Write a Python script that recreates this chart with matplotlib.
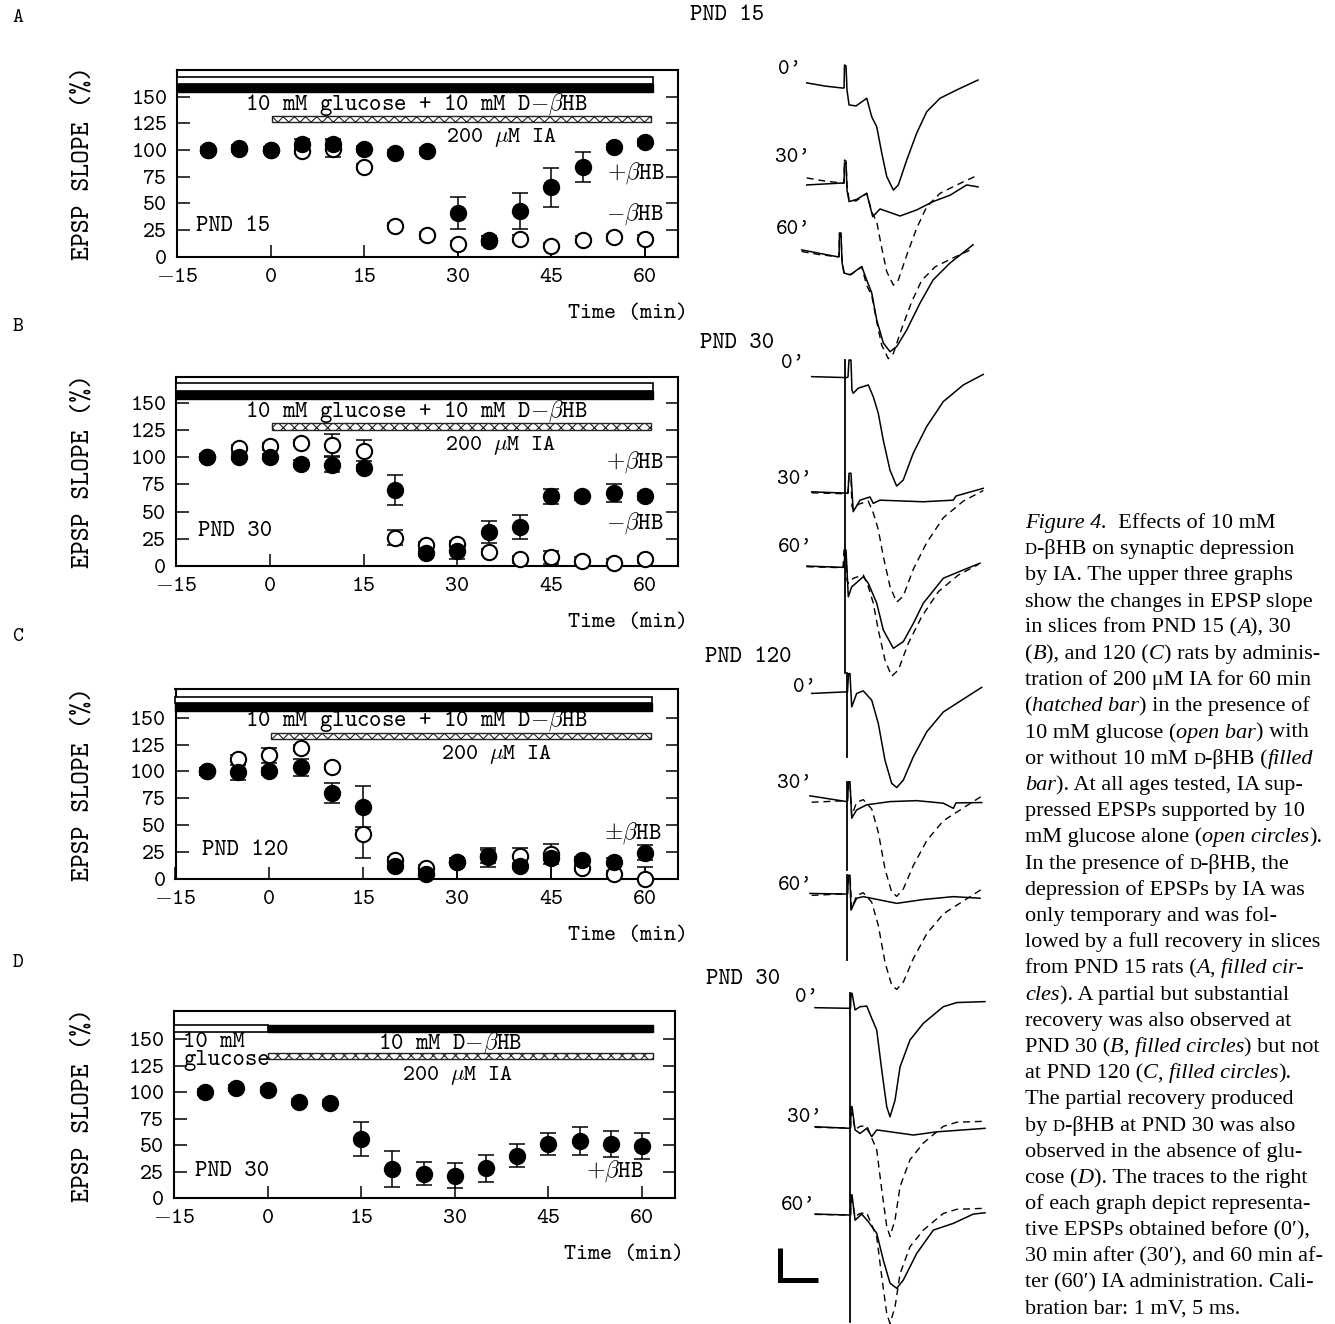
import matplotlib
matplotlib.use('Agg')
import matplotlib.pyplot as plt
from matplotlib.patches import Rectangle
from matplotlib.font_manager import FontProperties

W, H, DPI = 1335, 1324, 100
plt.rcParams['font.family'] = ['cmtt10', 'DejaVu Serif']
plt.rcParams['mathtext.fontset'] = 'cm'
plt.rcParams['axes.unicode_minus'] = False
plt.rcParams['hatch.linewidth'] = 0.8

# ---------------- data (EPSP slope, % of baseline) ----------------
time_min = [-10, -5, 0, 5, 10, 15, 20, 25, 30, 35, 40, 45, 50, 55, 60]
x_ticks = [-15, 0, 15, 30, 45, 60]
x_tick_labels = ['$-$15', '0', '15', '30', '45', '60']
y_ticks = [0, 25, 50, 75, 100, 125, 150]
y_tick_labels = ['0', '25', '50', '75', '100', '125', '150']

# Panel A  (PND 15)
A_with = [100, 102, 100, 106, 106, 101, 97, 99, 41, 15, 43, 65, 84, 103, 107]
A_with_lo = [3, 3, 3, 4, 4, 3, 3, 3, 15, 4, 17, 18, 14, 3, 3]
A_with_hi = [3, 3, 3, 4, 4, 3, 3, 3, 15, 4, 17, 18, 14, 3, 3]
A_without = [100, 101, 100, 99, 101, 84, 29, 20, 12, 16, 17, 10, 16, 18, 17]
A_without_lo = [3, 3, 3, 3, 8, 3, 3, 3, 12, 3, 3, 10, 3, 3, 17]
A_without_hi = [3, 3, 3, 3, 8, 3, 3, 3, 3, 3, 3, 3, 3, 3, 3]
# Panel B  (PND 30)
B_with = [100, 100, 100, 94, 93, 90, 70, 12, 14, 31, 36, 64, 64, 67, 64]
B_with_lo = [3, 3, 3, 3, 7, 3, 14, 3, 8, 10, 11, 7, 3, 8, 3]
B_with_hi = [3, 3, 3, 3, 7, 3, 14, 3, 8, 10, 11, 7, 3, 8, 3]
B_without = [100, 108, 110, 113, 111, 106, 26, 19, 20, 13, 6, 8, 5, 3, 6]
B_without_lo = [3, 3, 3, 3, 10, 10, 7, 3, 3, 3, 3, 6, 3, 3, 3]
B_without_hi = [3, 3, 3, 3, 10, 10, 7, 3, 3, 3, 3, 6, 3, 3, 3]
# Panel C  (PND 120)
C_with = [100, 99, 100, 104, 80, 67, 12, 4, 16, 20, 12, 19, 17, 16, 24]
C_with_lo = [3, 7, 3, 8, 9, 19, 3, 3, 16, 9, 3, 19, 3, 3, 7]
C_with_hi = [3, 7, 3, 8, 9, 19, 3, 3, 3, 9, 3, 3, 3, 3, 7]
C_without = [100, 112, 115, 122, 104, 42, 17, 10, 16, 21, 21, 23, 10, 4, 0]
C_without_lo = [3, 3, 7, 3, 3, 23, 3, 3, 3, 6, 8, 9, 3, 3, 0]
C_without_hi = [3, 3, 7, 3, 3, 3, 3, 3, 3, 6, 8, 9, 3, 3, 11]
# Panel D  (PND 30, no glucose)
D_with = [100, 104, 102, 91, 90, 56, 27, 23, 21, 28, 40, 51, 54, 51, 49]
D_with_lo = [3, 3, 3, 3, 3, 16, 17, 11, 12, 13, 11, 10, 13, 12, 12]
D_with_hi = [3, 3, 3, 3, 3, 16, 17, 11, 12, 13, 11, 10, 13, 12, 12]

# application windows (min)
glucose_window = {'A': (-15, 61.3), 'B': (-15, 61.3), 'C': (-15, 61.2), 'D': (-15, 0)}
bhb_window = {'A': (-15, 61.3), 'B': (-15, 61.3), 'C': (-15, 61.2), 'D': (0, 61.8)}
ia_window = {'A': (0.3, 61), 'B': (0.3, 61), 'C': (0.3, 61), 'D': (0, 61.8)}

# ---------------- representative EPSP traces (t in ms from stimulus, mV from baseline) ----------------
P15_0 = [(-5.04, 0.16), (-2.63, 0.06), (-0.39, 0), (-0.13, 0), (-0.07, 0.72), (0.13, 0.69), (0.26, -0.06),
         (0.53, -0.53), (1.45, -0.56), (2.86, -0.32), (3.51, -0.90), (4.17, -1.21), (4.83, -2.03), (5.49, -2.77),
         (6.36, -3.19), (7.01, -3.03), (8.12, -2.25), (9.43, -1.41), (10.75, -0.74), (12.5, -0.32), (14.7, -0.06),
         (17.5, 0.25)]
P15_30 = [(-5.04, -0.06), (-0.43, 0), (-0.13, 0), (-0.07, 0.63), (0.13, 0.63), (0.26, -0.22), (0.53, -0.58),
          (1.54, -0.51), (2.86, -0.32), (3.64, -1.05), (4.61, -0.81), (7.24, -1.03), (9.43, -0.84), (11.58, -0.58),
          (13.82, -0.38), (16.01, -0.06), (17.5, -0.12)]
P15_60 = [(-5.04, 0.21), (-0.43, 0), (-0.13, 0), (-0.07, 0.74), (0.13, 0.74), (0.26, -0.17), (0.53, -0.51),
          (1.32, -0.57), (2.86, -0.31), (3.51, -0.73), (4.17, -1.13), (4.83, -1.98), (5.70, -2.70), (6.58, -2.97),
          (7.46, -2.81), (8.78, -2.29), (10.53, -1.45), (12.24, -0.73), (14.47, -0.20), (17.5, 0.37)]
P30_0 = [(-5.04, 0.01), (-0.43, -0.02), (-0.26, 0), (-0.13, 0.53), (0.13, 0.53), (0.26, -0.41), (0.43, -0.51),
         (1.09, -0.35), (2.41, -0.25), (3.07, -0.62), (3.72, -1.13), (4.38, -1.97), (5.26, -2.91), (6.14, -3.41),
         (7.01, -3.22), (8.33, -2.38), (10.09, -1.55), (12.28, -0.77), (14.91, -0.25), (17.54, 0.08)]
P30_30 = [(-5.04, 0.04), (-0.43, 0), (-0.26, 0), (-0.13, 0.62), (0.13, 0.62), (0.43, -0.58), (1.32, -0.22),
          (2.63, -0.12), (3.07, -0.32), (3.95, -0.22), (9.61, -0.27), (13.59, -0.22), (13.95, -0.09),
          (17.54, 0.15)]
P30_60 = [(-5.04, 0.03), (-0.22, -0.01), (-0.13, 0), (0, 0.53), (0.13, 0.53), (0.43, -0.93), (0.88, -0.62),
          (2.41, -0.30), (3.07, -0.51), (4.17, -1.13), (5.04, -1.97), (6.36, -2.54), (7.67, -2.33), (8.99, -1.76),
          (10.30, -1.13), (12.93, -0.35), (15.57, -0.09), (17.76, 0.12)]
P120_0 = [(-4.78, -0.04), (-0.17, 0.01), (-0.07, 0), (0.07, 0.58), (0.26, 0.58), (0.49, -0.46), (1.14, -0.04),
          (2.01, 0.04), (3.12, -0.25), (3.99, -0.98), (4.87, -2.13), (5.75, -2.85), (6.41, -2.98), (7.28, -2.75),
          (8.59, -2.02), (10.36, -1.24), (12.54, -0.62), (14.30, -0.35), (17.59, 0.15)]
P120_30 = [(-5.0, 0.16), (-0.17, -0.02), (-0.07, 0), (0.07, 0.6), (0.26, 0.6), (0.49, -0.54), (1.14, -0.28),
           (2.46, -0.12), (5.53, -0.02), (9.04, 0.01), (12.54, -0.07), (13.86, -0.23), (14.21, -0.06),
           (17.59, -0.05)]
P120_60 = [(-5.0, 0.02), (-0.17, 0), (-0.07, 0), (0.07, 0.59), (0.26, 0.59), (0.39, -0.5), (1.14, -0.13),
           (2.01, -0.08), (6.41, -0.29), (9.91, -0.17), (13.86, -0.08), (17.37, -0.13)]
PD_0 = [(-4.74, 0.02), (-0.13, 0), (-0.07, 0), (0, 0.47), (0.13, 0.47), (0.53, -0.05), (1.18, 0.05), (2.07, 0.07),
        (2.72, -0.31), (3.38, -0.68), (4.04, -1.93), (4.70, -3.08), (5.13, -3.39), (5.79, -2.87), (6.45, -1.83),
        (7.76, -0.99), (9.51, -0.47), (12.14, 0.05), (13.91, 0.18), (17.63, 0.21)]
PD_30 = [(-4.74, 0.04), (-0.13, -0.01), (-0.07, 0), (0, 0.67), (0.13, 0.67), (0.53, -0.06), (1.18, -0.17),
         (2.07, -0.01), (2.72, -0.27), (3.38, -0.06), (8.20, -0.22), (11.28, -0.12), (17.63, -0.01)]
PD_60 = [(-4.74, 0.03), (-0.13, 0), (-0.07, 0), (0, 0.63), (0.13, 0.63), (0.53, -0.16), (1.41, 0.03),
         (2.28, -0.21), (3.38, -0.57), (4.25, -1.41), (5.13, -2.13), (6.01, -2.29), (6.88, -2.03), (8.64, -1.20),
         (10.83, -0.47), (13.46, -0.26), (16.09, 0.03), (17.63, 0.07)]
trace_labels = ["0'", "30'", "60'"]
cal_mV, cal_ms = 1, 5

# ---------------- figure ----------------
fig = plt.figure(figsize=(W / DPI, H / DPI), dpi=DPI)
fig.patch.set_facecolor('white')


def fxy(x, y):
    return x / W, 1 - y / H


panels = [
    dict(key='A', box=(177, 70, 678, 256.7), ytop=174.9,
         series=[(A_without, A_without_lo, A_without_hi, False), (A_with, A_with_lo, A_with_hi, True)],
         bars=dict(glc=(162, 168.5), bhb=(154.5, 162), ia=(125.8, 132)),
         sol_text=[('10 mM glucose + 10 mM D$-\\beta$HB', 23.4, 143, 'center')],
         ia_text=(37.1, 111.3), pnd=('PND 15', -11.9, 28),
         hb=[('$+\\beta$HB', 63.2, 78.6), ('$-\\beta$HB', 62.9, 39.5)], xlab_right=687.5),
    dict(key='B', box=(176, 376.7, 678, 566), ytop=173.9,
         series=[(B_without, B_without_lo, B_without_hi, False), (B_with, B_with_lo, B_with_hi, True)],
         bars=dict(glc=(160.7, 167.8), bhb=(153.4, 160.7), ia=(125, 131)),
         sol_text=[('10 mM glucose + 10 mM D$-\\beta$HB', 23.4, 142.3, 'center')],
         ia_text=(37, 110.5), pnd=('PND 30', -11.5, 31.5),
         hb=[('$+\\beta$HB', 63, 95.8), ('$-\\beta$HB', 63, 39.2)], xlab_right=687.5),
    dict(key='C', box=(175.5, 689, 678, 878.7), ytop=176.8,
         series=[(C_without, C_without_lo, C_without_hi, False), (C_with, C_with_lo, C_with_hi, True)],
         bars=dict(glc=(164, 169.5), bhb=(156, 164), ia=(130, 135.7)),
         sol_text=[('10 mM glucose + 10 mM D$-\\beta$HB', 23.4, 147, 'center')],
         ia_text=(36.4, 116), pnd=('PND 120', -10.8, 26.7),
         hb=[('$\\pm\\beta$HB', 62.6, 42.9)], xlab_right=687.5),
    dict(key='D', box=(174, 1011, 675, 1198), ytop=176.7,
         series=[(D_with, D_with_lo, D_with_hi, True)],
         bars=dict(glc=(157, 163), bhb=(156.6, 163), ia=(131.4, 137)),
         sol_text=[('10 mM\nglucose', -13.5, 138.3, 'left'),
                   ('10 mM D$-\\beta$HB', 29.3, 146, 'center')],
         ia_text=(30.4, 116), pnd=('PND 30', -11.6, 25),
         hb=[('$+\\beta$HB', 60.3, 25)], xlab_right=684),
]

TICK_FS = 16.5
IN_FS = 17
for p in panels:
    l, t, r, b = p['box']
    ax = fig.add_axes([l / W, 1 - b / H, (r - l) / W, (b - t) / H])
    ax.set_xlim(-15, 65.3)
    ax.set_ylim(0, p['ytop'])
    for s in ax.spines.values():
        s.set_linewidth(1.5)
    ax.set_xticks(x_ticks)
    ax.set_xticklabels(x_tick_labels)
    ax.set_yticks(y_ticks)
    ax.set_yticklabels(y_tick_labels)
    ax.tick_params(axis='both', direction='in', length=9, width=1.1, labelsize=TICK_FS)
    ax.tick_params(axis='y', right=True, pad=7)
    ax.tick_params(axis='x', pad=8)
    # drug bars
    k = p['key']
    g0, g1 = p['bars']['glc']
    h0, h1 = p['bars']['bhb']
    i0, i1 = p['bars']['ia']
    gx = glucose_window[k]
    bx = bhb_window[k]
    ix = ia_window[k]
    ax.add_patch(Rectangle((gx[0], g0), gx[1] - gx[0], g1 - g0, facecolor='white', edgecolor='black',
                           lw=1.2, clip_on=False, zorder=3))
    ax.add_patch(Rectangle((bx[0], h0), bx[1] - bx[0], h1 - h0, facecolor='black', edgecolor='black',
                           lw=1.0, clip_on=False, zorder=3))
    ax.add_patch(Rectangle((ix[0], i0), ix[1] - ix[0], i1 - i0, facecolor='white', edgecolor='#222222',
                           lw=1.0, hatch='xxx', clip_on=False, zorder=3))
    for s, x, y, ha in p['sol_text']:
        ax.text(x, y, s, ha=ha, va='center', fontsize=IN_FS, zorder=5, linespacing=0.8)
    ax.text(p['ia_text'][0], p['ia_text'][1], '200 $\\mu$M IA', ha='center', va='center', fontsize=16.5)
    s, x, y = p['pnd']
    ax.text(x, y, s, ha='left', va='center', fontsize=IN_FS)
    for s, x, y in p['hb']:
        ax.text(x, y, s, ha='right', va='center', fontsize=IN_FS)
    # data
    for vals, lo, hi, filled in p['series']:
        ax.errorbar(time_min, vals, yerr=[lo, hi], fmt='none', ecolor='black', elinewidth=1.1,
                    capsize=5.5, capthick=1.1, zorder=2, clip_on=False)
    for vals, lo, hi, filled in p['series']:
        ax.plot(time_min, vals, 'o', ms=11, mec='black', mew=1.5,
                mfc='black' if filled else 'white', zorder=4 if filled else 3, clip_on=False)
    # labels
    ax.text((p['xlab_right'] - l) / (r - l), -(313.3 - 256.7) / (b - t), 'Time (min)', transform=ax.transAxes,
            ha='right', va='center', fontsize=16.5)
    fig.text(83 / W, 1 - (t + b) / 2 / H, 'EPSP SLOPE (%)', rotation=90, ha='center', va='center', fontsize=19)

# panel letters
for letter, (x, y) in zip(['A', 'B', 'C', 'D'], [(18, 18), (18, 327), (18, 637), (18, 963)]):
    fig.text(*fxy(x, y), letter, ha='center', va='center', fontsize=15)

# ---------------- traces ----------------
PX_MS, PX_MV = 7.6, 32.0
tax = fig.add_axes([740 / W, 0, 260 / W, 1])
tax.set_xlim(0, 260 / PX_MS)
tax.set_ylim(-H / PX_MV, 0)
tax.axis('off')

groups = [
    dict(name='PND 15', head=(727, 16), traces=[P15_0, P15_30, P15_60],
         stim=[13.82, 13.82, 13.16], base=[-2.75, -5.72, -8.02],
         labels=[(790, 70), (793, 157), (793, 230)], lines=[]),
    dict(name='PND 30', head=(737, 343), traces=[P30_0, P30_30, P30_60],
         stim=[14.47, 14.47, 13.82], base=[-11.78, -15.41, -17.72],
         labels=[(793, 363), (795, 480), (795, 547)], lines=[(13.82, -11.25, -21.03)]),
    dict(name='PND 120', head=(748, 657), traces=[P120_0, P120_30, P120_60],
         stim=[14.21, 14.21, 14.21], base=[-21.63, -25.03, -27.94],
         labels=[(805, 687), (795, 783), (795, 885)],
         lines=[(14.08, -21.03, -23.66), (14.08, -24.44, -27.19), (14.08, -27.34, -30.0)]),
    dict(name='PND 30', head=(743, 980), traces=[PD_0, PD_30, PD_60],
         stim=[14.61, 14.61, 14.61], base=[-31.51, -35.25, -37.97],
         labels=[(807, 997), (805, 1117), (798, 1205)], lines=[(14.47, -31.03, -41.31)]),
]

for g in groups:
    fig.text(*fxy(*g['head']), g['name'], ha='center', va='center', fontsize=17)
    ref = g['traces'][0]
    for i, (tr, st, bs) in enumerate(zip(g['traces'], g['stim'], g['base'])):
        xs = [st + tt for tt, vv in tr]
        ys = [bs + vv for tt, vv in tr]
        tax.plot(xs, ys, color='black', lw=1.1, solid_joinstyle='round')
        if i > 0:
            tax.plot([st + tt for tt, vv in ref], [bs + vv for tt, vv in ref], color='black', lw=1.0,
                     linestyle=(0, (5, 3.5)))
        fig.text(*fxy(*g['labels'][i]), trace_labels[i], ha='center', va='center', fontsize=16)
    for x, y0, y1 in g['lines']:
        tax.plot([x, x], [y0, y1], color='black', lw=1.3)

# calibration bar
cx, cy = 5.3, -40.0
tax.plot([cx, cx, cx + cal_ms], [cy + cal_mV, cy, cy], color='black', lw=3.6, solid_joinstyle='miter',
         solid_capstyle='butt')

# ---------------- caption ----------------
caption_lines = [
    "_Figure 4._  Effects of 10 mM",
    "~D-\u03b2HB on synaptic depression",
    "by IA. The upper three graphs",
    "show the changes in EPSP slope",
    "in slices from PND 15 (_A_), 30",
    "(_B_), and 120 (_C_) rats by adminis-",
    "tration of 200 \u03bcM IA for 60 min",
    "(_hatched bar_) in the presence of",
    "10 mM glucose (_open bar_) with",
    "or without 10 mM ~D-\u03b2HB (_filled_",
    "_bar_). At all ages tested, IA sup-",
    "pressed EPSPs supported by 10",
    "mM glucose alone (_open circles_).",
    "In the presence of ~D-\u03b2HB, the",
    "depression of EPSPs by IA was",
    "only temporary and was fol-",
    "lowed by a full recovery in slices",
    "from PND 15 rats (_A_, _filled cir-_",
    "_cles_). A partial but substantial",
    "recovery was also observed at",
    "PND 30 (_B_, _filled circles_) but not",
    "at PND 120 (_C_, _filled circles_).",
    "The partial recovery produced",
    "by ~D-\u03b2HB at PND 30 was also",
    "observed in the absence of glu-",
    "cose (_D_). The traces to the right",
    "of each graph depict representa-",
    "tive EPSPs obtained before (0\u2032),",
    "30 min after (30\u2032), and 60 min af-",
    "ter (60\u2032) IA administration. Cali-",
    "bration bar: 1 mV, 5 ms.",
]
CAP_FONT = ['Liberation Serif', 'DejaVu Serif']
renderer = fig.canvas.get_renderer()


def adv(s, size, italic):
    prop = FontProperties(family=CAP_FONT, size=size, style='italic' if italic else 'normal')
    w1, _, _ = renderer.get_text_width_height_descent('|' + s + '|', prop, ismath=False)
    w0, _, _ = renderer.get_text_width_height_descent('||', prop, ismath=False)
    return w1 - w0


def parse(line):
    segs, buf, it, i = [], '', False, 0
    while i < len(line):
        c = line[i]
        if c == '_':
            if buf:
                segs.append((buf, it, False))
            buf = ''
            it = not it
        elif c == '~':
            if buf:
                segs.append((buf, it, False))
            buf = ''
            segs.append((line[i + 1], it, True))
            i += 1
        else:
            buf += c
        i += 1
    if buf:
        segs.append((buf, it, False))
    return segs


base_size = 10.0
w_ref = sum(adv(s, base_size * (0.75 if sc else 1), it) for s, it, sc in parse(caption_lines[3]))
cap_size = base_size * 288.0 / w_ref
x_cap, y_first, dy = 1025, 528, 26.2
for j, line in enumerate(caption_lines):
    x = x_cap
    yb = y_first + j * dy
    for s, it, sc in parse(line):
        fs = cap_size * (0.75 if sc else 1)
        fig.text(x / W, 1 - yb / H, s, fontsize=fs, family=CAP_FONT, style='italic' if it else 'normal',
                 ha='left', va='baseline')
        x += adv(s, fs, it)

fig.savefig('out.png', dpi=DPI, facecolor='white')
